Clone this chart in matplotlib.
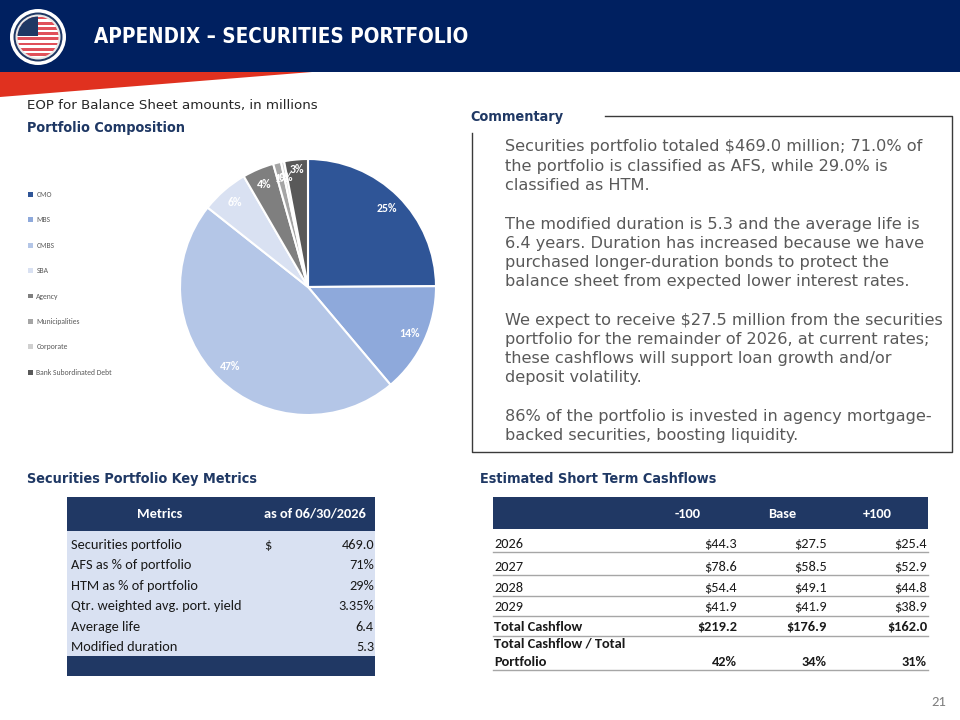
import matplotlib
matplotlib.use('Agg')
import matplotlib.pyplot as plt
from matplotlib.patches import Rectangle, Polygon, Circle

# ---------------- data ----------------
categories = ['CMO', 'MBS', 'CMBS', 'SBA', 'Agency', 'Municipalities',
              'Corporate', 'Bank Subordinated Debt']
shares = [25, 14, 47, 6, 4, 1, 0.4, 3]
slice_colors = ['#2F5597', '#8EA9DB', '#B4C6E7', '#D9E1F2', '#7F7F7F',
                '#A5A5A5', '#D0D0D0', '#595959']

metric_header = ['Metrics', 'as of 06/30/2026']
metric_labels = ['Securities portfolio', 'AFS as % of portfolio', 'HTM as % of portfolio',
                 'Qtr. weighted avg. port. yield', 'Average life', 'Modified duration']
metric_values = ['469.0', '71%', '29%', '3.35%', '6.4', '5.3']

cf_columns = ['-100', 'Base', '+100']
cf_years = ['2026', '2027', '2028', '2029']
cf_minus = [44.3, 78.6, 54.4, 41.9]
cf_base = [27.5, 58.5, 49.1, 41.9]
cf_plus = [25.4, 52.9, 44.8, 38.9]
cf_totals = [219.2, 176.9, 162.0]
cf_ratio = [42, 34, 31]

commentary = [
    ['Securities portfolio totaled $469.0 million; 71.0% of',
     'the portfolio is classified as AFS, while 29.0% is',
     'classified as HTM.'],
    ['The modified duration is 5.3 and the average life is',
     '6.4 years. Duration has increased because we have',
     'purchased longer-duration bonds to protect the',
     'balance sheet from expected lower interest rates.'],
    ['We expect to receive $27.5 million from the securities',
     'portfolio for the remainder of 2026, at current rates;',
     'these cashflows will support loan growth and/or',
     'deposit volatility.'],
    ['86% of the portfolio is invested in agency mortgage-',
     'backed securities, boosting liquidity.'],
]

# ---------------- style ----------------
NAVY_BAND = '#002060'
NAVY = '#1F3864'
TBL_NAVY = '#203864'
RED = '#E0311F'
HEAD = ['Liberation Sans Narrow', 'DejaVu Sans Condensed', 'DejaVu Sans']
BODY = ['Carlito', 'Lato', 'DejaVu Sans']
VERD = ['DejaVu Sans']
FS = 10.4  # table font size
HFS = 10.4  # section heading size

W, H = 960, 720
fig = plt.figure(figsize=(9.6, 7.2), dpi=100)
fig.patch.set_facecolor('white')
bg = fig.add_axes([0, 0, 1, 1])
bg.set_xlim(0, W)
bg.set_ylim(H, 0)
bg.axis('off')


def txt(x, y, s, **kw):
    kw.setdefault('va', 'center')
    return bg.text(x, y, s, **kw)


def heading(x, y, s):
    txt(x, y, s, color=NAVY, fontsize=HFS, fontweight='bold', family=HEAD,
        fontstretch='condensed')


# ---------------- header ----------------
bg.add_patch(Rectangle((0, 0), W, 72, color=NAVY_BAND, lw=0))
bg.add_patch(Polygon([(0, 72), (312, 72), (0, 97)], closed=True, color=RED, lw=0))

# logo
bg.add_patch(Circle((38, 37), 28, color='white', lw=0))
bg.add_patch(Circle((38, 37), 24.5, color=NAVY, lw=0))
bg.add_patch(Circle((38, 37), 22.5, color='#E8E8E8', lw=0))
disk = Circle((38, 37), 20.5, color='white', lw=0)
bg.add_patch(disk)
for i in range(8):
    st = Rectangle((10, 16.5 + i * 5.2), 60, 2.8, color='#E0505A', lw=0)
    bg.add_patch(st)
    st.set_clip_path(disk)
cant = Rectangle((10, 10), 28, 26, color=NAVY, lw=0)
bg.add_patch(cant)
cant.set_clip_path(disk)

txt(94, 37, 'APPENDIX \u2013 SECURITIES PORTFOLIO', color='white', fontsize=14.8,
    fontweight='bold', family=HEAD, fontstretch='condensed')

# ---------------- left top ----------------
txt(27, 106, 'EOP for Balance Sheet amounts, in millions', color='#262626',
    fontsize=9.6, family=VERD)
heading(27, 128, 'Portfolio Composition')

# pie
cx, cy, r = 308, 287, 128
pad = 1.05
pax = fig.add_axes([(cx - r * pad) / W, 1 - (cy + r * pad) / H,
                    2 * r * pad / W, 2 * r * pad / H])
wedges, _, autotexts = pax.pie(
    shares, colors=slice_colors, startangle=90, counterclock=False,
    wedgeprops=dict(edgecolor='white', linewidth=1.5),
    autopct=lambda p: f'{p:.0f}%', pctdistance=0.87,
    textprops=dict(color='white', fontsize=8.5, fontweight='bold', family=BODY))
# the last small label sits a little further out, as in the source slide
lx, ly = autotexts[-1].get_position()
autotexts[-1].set_position((lx * 1.1, ly * 1.06))
pax.set_xlim(-pad, pad)
pax.set_ylim(-pad, pad)
pax.axis('off')

leg = pax.legend(wedges, categories, loc='upper left',
                 bbox_to_anchor=(28 / W, 1 - 191 / H), bbox_transform=fig.transFigure,
                 frameon=False, handlelength=0.6, handleheight=0.6,
                 handletextpad=0.5, labelspacing=2.41, borderpad=0, borderaxespad=0,
                 prop=dict(family=BODY, size=5.5))
for t in leg.get_texts():
    t.set_color('#595959')
for h in leg.legend_handles:
    h.set_edgecolor('none')

# ---------------- commentary ----------------
heading(470, 117, 'Commentary')
bg.plot([605, 952, 952, 472, 472], [116, 116, 452, 452, 133], color='#3A3A3A', lw=1)
para_tops = [147, 224, 320, 416]
for top, para in zip(para_tops, commentary):
    for j, line in enumerate(para):
        txt(505, top + j * 19.2, line, color='#595959', fontsize=11.6, family=VERD)

# ---------------- metrics table ----------------
heading(27, 479, 'Securities Portfolio Key Metrics')
tx0, tx1 = 67, 375
bg.add_patch(Rectangle((tx0, 497), tx1 - tx0, 34, color=TBL_NAVY, lw=0))
bg.add_patch(Rectangle((tx0, 531), tx1 - tx0, 125, color='#D9E1F2', lw=0))
bg.add_patch(Rectangle((tx0, 656), tx1 - tx0, 20, color=TBL_NAVY, lw=0))
txt(160, 514, metric_header[0], color='white', fontsize=FS, fontweight='bold',
    family=BODY, ha='center')
txt(315, 514, metric_header[1], color='white', fontsize=FS, fontweight='bold',
    family=BODY, ha='center')
for i, (lab, val) in enumerate(zip(metric_labels, metric_values)):
    y = 545 + i * 20.4
    txt(71, y, lab, color='#1A1A1A', fontsize=FS, family=BODY)
    txt(374, y, val, color='#1A1A1A', fontsize=FS, family=BODY, ha='right')
    if i == 0:
        txt(264, y, '$', color='#1A1A1A', fontsize=FS, family=BODY)

# ---------------- cashflow table ----------------
heading(480, 479, 'Estimated Short Term Cashflows')
cx0, cx1 = 493, 928
bg.add_patch(Rectangle((cx0, 497), cx1 - cx0, 32, color=TBL_NAVY, lw=0))
col_centers = [688, 782, 877]
col_rights = [737, 827, 927]
for c, name in zip(col_centers, cf_columns):
    txt(c, 514, name, color='white', fontsize=FS, fontweight='bold', family=BODY,
        ha='center')
row_y = [544, 567, 587.5, 607]
for i, yr in enumerate(cf_years):
    y = row_y[i]
    txt(494, y, yr, color='#1A1A1A', fontsize=FS, family=BODY)
    for xr, series in zip(col_rights, [cf_minus, cf_base, cf_plus]):
        txt(xr, y, f'${series[i]:.1f}', color='#1A1A1A', fontsize=FS, family=BODY,
            ha='right')
txt(494, 627, 'Total Cashflow', color='#1A1A1A', fontsize=FS, fontweight='bold',
    family=BODY)
for xr, v in zip(col_rights, cf_totals):
    txt(xr, 627, f'${v:.1f}', color='#1A1A1A', fontsize=FS, fontweight='bold',
        family=BODY, ha='right')
txt(494, 644, 'Total Cashflow / Total', color='#1A1A1A', fontsize=FS,
    fontweight='bold', family=BODY)
txt(494, 661.5, 'Portfolio', color='#1A1A1A', fontsize=FS, fontweight='bold',
    family=BODY)
for xr, v in zip(col_rights, cf_ratio):
    txt(xr, 661.5, f'{v}%', color='#1A1A1A', fontsize=FS, fontweight='bold',
        family=BODY, ha='right')
for ly_ in [552, 575, 596, 616, 636, 670]:
    bg.plot([cx0, cx1], [ly_, ly_], color='#A6A6A6', lw=1)

# page number
txt(939, 702, '21', color='#7F7F7F', fontsize=10.5, family=BODY, ha='center')

fig.savefig('out.png', dpi=100, facecolor='white')
